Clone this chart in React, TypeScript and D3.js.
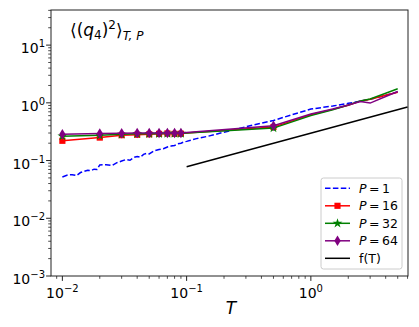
import React, { useEffect, useRef } from 'react';
import * as d3 from 'd3';

// P = 1 run (dense at low T, noisy)
const T_P1 = [
  0.01, 0.011, 0.012, 0.013, 0.014, 0.015, 0.016, 0.017, 0.018, 0.019, 0.02,
  0.0225, 0.025, 0.0275, 0.03, 0.0325, 0.035, 0.0375, 0.04, 0.0425, 0.045, 0.0475, 0.05,
  0.055, 0.06, 0.065, 0.07, 0.075, 0.08, 0.085, 0.09, 0.095, 0.1,
  0.11, 0.12, 0.15, 0.2, 0.3, 0.4, 0.5, 0.7, 1.0, 1.5, 2, 2.5, 3, 4, 5,
];
const P1 = [
  0.052, 0.056, 0.057, 0.055, 0.062, 0.065, 0.068, 0.067, 0.071, 0.07, 0.084,
  0.085, 0.082, 0.092, 0.098, 0.104, 0.101, 0.113, 0.118, 0.114, 0.128, 0.133, 0.13,
  0.148, 0.155, 0.16, 0.172, 0.178, 0.183, 0.196, 0.2, 0.21, 0.215,
  0.228, 0.24, 0.265, 0.31, 0.385, 0.445, 0.495, 0.62, 0.78, 0.88, 0.98, 1.07, 1.15, 1.35, 1.55,
];

// P = 16, 32, 64 share the same temperatures
const T_P = [0.01, 0.02, 0.03, 0.04, 0.05, 0.06, 0.07, 0.08, 0.09, 0.1, 0.5, 1, 1.5, 2, 2.5, 3, 4, 5];
const P16 = [0.22, 0.25, 0.275, 0.28, 0.285, 0.29, 0.295, 0.29, 0.292, 0.3, 0.38, 0.62, 0.77, 0.91, 1.07, 1.15, 1.35, 1.53];
const P32 = [0.265, 0.275, 0.285, 0.29, 0.29, 0.29, 0.295, 0.295, 0.295, 0.3, 0.365, 0.6, 0.76, 0.92, 1.08, 1.17, 1.47, 1.75];
const P64 = [0.285, 0.295, 0.298, 0.3, 0.3, 0.3, 0.3, 0.3, 0.3, 0.305, 0.4, 0.64, 0.78, 0.92, 1.05, 0.99, 1.29, 1.57];
// temperatures that carry a marker
const MARKED_T = [0.01, 0.02, 0.03, 0.04, 0.05, 0.06, 0.07, 0.08, 0.09, 0.5];

// reference curve f(T)
const T_F = [0.1, 6];
const F = [0.078, 0.845];

const X_TICKS = [0.01, 0.1, 1];
const Y_TICKS = [0.001, 0.01, 0.1, 1, 10];

const W = 419;
const H = 327;
const m = { left: 51, right: 408, top: 10, bottom: 276 };

const exp = (v: number) => Math.round(Math.log10(v));
const minus = (n: number) => (n < 0 ? '\u2212' + Math.abs(n) : String(n));

const App = () => {
  const ref = useRef<SVGSVGElement>(null);

  useEffect(() => {
    const svg = d3.select(ref.current);
    svg.selectAll('*').remove();

    const x = d3.scaleLog().domain([0.0081, 6.05]).range([m.left, m.right]);
    const y = d3.scaleLog().domain([0.001, 40.6]).range([m.bottom, m.top]);

    svg.append('defs').append('clipPath').attr('id', 'plot')
      .append('rect').attr('x', m.left).attr('y', m.top)
      .attr('width', m.right - m.left).attr('height', m.bottom - m.top);

    const g = svg.append('g').attr('clip-path', 'url(#plot)');

    const line = (xs: number[], ys: number[]) =>
      d3.line<number>().x((d, i) => x(xs[i])).y(d => y(d))(ys);

    const series = [
      { name: 'P1', xs: T_P1, ys: P1, color: 'blue', dash: '5.5,2.4', marker: null },
      { name: 'P16', xs: T_P, ys: P16, color: 'red', dash: null, marker: 'square' },
      { name: 'P32', xs: T_P, ys: P32, color: 'green', dash: null, marker: 'star' },
      { name: 'P64', xs: T_P, ys: P64, color: 'purple', dash: null, marker: 'diamond' },
    ];

    const markerPath = (kind: string) => {
      if (kind === 'square') return d3.symbol(d3.symbolSquare, 38)();
      if (kind === 'star') return d3.symbol(d3.symbolStar, 30)();
      return 'M0,-5.3L3.2,0L0,5.3L-3.2,0Z';
    };

    series.forEach(s => {
      g.append('path').attr('d', line(s.xs, s.ys)).attr('fill', 'none')
        .attr('stroke', s.color).attr('stroke-width', 1.5)
        .attr('stroke-dasharray', s.dash);
      if (s.marker) {
        const pts = s.xs.map((t, i) => [t, s.ys[i]]).filter(p => MARKED_T.includes(p[0]));
        g.selectAll(null).data(pts).enter().append('path')
          .attr('d', markerPath(s.marker))
          .attr('transform', d => `translate(${x(d[0])},${y(d[1])})`)
          .attr('fill', s.color);
      }
    });

    g.append('path').attr('d', line(T_F, F)).attr('fill', 'none')
      .attr('stroke', 'black').attr('stroke-width', 1.5);

    // frame
    svg.append('rect').attr('x', m.left).attr('y', m.top)
      .attr('width', m.right - m.left).attr('height', m.bottom - m.top)
      .attr('fill', 'none').attr('stroke', '#222').attr('stroke-width', 1);

    const font = 'DejaVu Sans, sans-serif';

    // minor ticks
    const minors = (lo: number, hi: number) => {
      const out: number[] = [];
      for (let k = -4; k <= 2; k++) for (let j = 2; j <= 9; j++) {
        const v = j * Math.pow(10, k);
        if (v >= lo && v <= hi) out.push(v);
      }
      return out;
    };
    minors(0.0081, 6.05).forEach(v => {
      svg.append('line').attr('x1', x(v)).attr('x2', x(v))
        .attr('y1', m.bottom).attr('y2', m.bottom + 2.8).attr('stroke', '#222').attr('stroke-width', 0.8);
    });
    minors(0.001, 40.6).forEach(v => {
      svg.append('line').attr('y1', y(v)).attr('y2', y(v))
        .attr('x1', m.left).attr('x2', m.left - 2.8).attr('stroke', '#222').attr('stroke-width', 0.8);
    });

    X_TICKS.forEach(v => {
      svg.append('line').attr('x1', x(v)).attr('x2', x(v))
        .attr('y1', m.bottom).attr('y2', m.bottom + 4.9).attr('stroke', '#222').attr('stroke-width', 1);
      const t = svg.append('text').attr('x', x(v)).attr('y', m.bottom + 22)
        .attr('text-anchor', 'middle').attr('font-family', font).attr('font-size', 14);
      t.append('tspan').text('10');
      t.append('tspan').attr('dy', -6).attr('font-size', 10).text(minus(exp(v)));
    });

    Y_TICKS.forEach(v => {
      svg.append('line').attr('y1', y(v)).attr('y2', y(v))
        .attr('x1', m.left).attr('x2', m.left - 4.9).attr('stroke', '#222').attr('stroke-width', 1);
      const t = svg.append('text').attr('x', m.left - 6).attr('y', y(v) + 8)
        .attr('text-anchor', 'end').attr('font-family', font).attr('font-size', 14);
      t.append('tspan').text('10');
      t.append('tspan').attr('dy', -6).attr('font-size', 10).text(minus(exp(v)));
    });

    // axis label
    svg.append('text').attr('x', 231).attr('y', 314).attr('text-anchor', 'middle')
      .attr('font-family', font).attr('font-style', 'italic').attr('font-size', 17).text('T');

    // title inside axes
    const tt = svg.append('text').attr('x', 70).attr('y', 36)
      .attr('font-family', font).attr('font-size', 17);
    tt.append('tspan').text('\u27E8(');
    tt.append('tspan').attr('font-style', 'italic').text('q');
    tt.append('tspan').attr('font-size', 12).attr('dy', 3).text('4');
    tt.append('tspan').attr('dy', -3).text(')');
    tt.append('tspan').attr('font-size', 12).attr('dy', -7).text('2');
    tt.append('tspan').attr('dy', 7).text('\u27E9');
    tt.append('tspan').attr('font-size', 12).attr('dy', 4).attr('font-style', 'italic').text('T, P');

    // legend
    const lg = svg.append('g');
    lg.append('rect').attr('x', 321).attr('y', 178).attr('width', 81).attr('height', 91)
      .attr('rx', 2.5).attr('fill', 'white').attr('fill-opacity', 0.8)
      .attr('stroke', '#cccccc').attr('stroke-width', 1);
    const items = [
      { label: '1', color: 'blue', dash: '5.5,2.4', marker: null },
      { label: '16', color: 'red', dash: null, marker: 'square' },
      { label: '32', color: 'green', dash: null, marker: 'star' },
      { label: '64', color: 'purple', dash: null, marker: 'diamond' },
      { label: 'f(T)', color: 'black', dash: null, marker: null },
    ];
    items.forEach((it, i) => {
      const yy = 188.3 + i * 17.5;
      lg.append('line').attr('x1', 325).attr('x2', 350).attr('y1', yy).attr('y2', yy)
        .attr('stroke', it.color).attr('stroke-width', 1.5).attr('stroke-dasharray', it.dash);
      if (it.marker) {
        lg.append('path').attr('d', markerPath(it.marker))
          .attr('transform', `translate(337.5,${yy})`).attr('fill', it.color);
      }
      const t = lg.append('text').attr('x', 359).attr('y', yy + 4.5)
        .attr('font-family', font).attr('font-size', 12.5);
      if (i < 4) {
        t.append('tspan').attr('font-style', 'italic').text('P');
        t.append('tspan').text('\u2009=\u2009' + it.label);
      } else {
        t.text(it.label);
      }
    });
  }, []);

  return (
    <svg ref={ref} width={W} height={H}
      style={{ position: 'absolute', left: 0, top: 0, background: 'white' }} />
  );
};

export default App;
